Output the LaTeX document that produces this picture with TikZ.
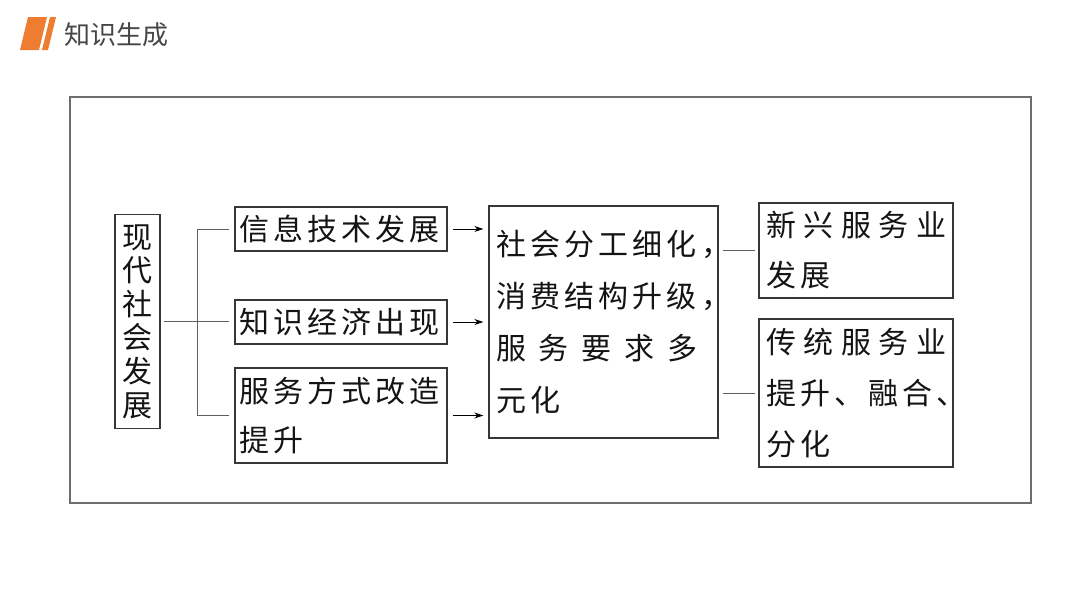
\documentclass[tikz,border=0pt]{standalone}
\usepackage{fontspec}
\usepackage{xcolor}
\usepackage{tikz}
\usetikzlibrary{arrows.meta, positioning, calc}
\newfontfamily\cjk[LetterSpace=14]{Noto Sans CJK SC}
\newfontfamily\cjkhead{Noto Sans CJK SC}
\definecolor{myorange}{RGB}{238,125,49}
\definecolor{myframe}{RGB}{110,110,110}
\definecolor{myborder}{RGB}{55,55,55}
\definecolor{mylink}{RGB}{95,95,95}
\definecolor{mytext}{RGB}{20,20,20}
\definecolor{myhead}{RGB}{70,70,70}
\tikzset{
  box/.style={rectangle, draw=myborder, line width=1.4pt, text=mytext,
    align=left, inner ysep=0pt, minimum height=#1},
  box/.default=44pt,
  link/.style={color=mylink, line width=0.9pt},
  arrow/.style={-{Stealth[length=9pt,width=6pt]}, line width=0.9pt, color=black},
  txt/.style={font={\cjk\fontsize{30}{#1}\selectfont}},
  txt/.default=50pt
}

\begin{document}
\begin{tikzpicture}[x=1pt, y=-1pt]
  \useasboundingbox (0,0) rectangle (1080,608);

  % Header
  \fill[myorange] (28,17) -- (47,17) -- (39,50) -- (20,50) -- cycle;
  \fill[myorange] (50,17) -- (56,17) -- (48,50) -- (42,50) -- cycle;
  \node[anchor=west, text=myhead, font={\cjkhead\fontsize{26}{30}\selectfont}] (title) at (61,35) {知识生成};

  % Outer frame
  \draw[myframe, line width=2pt] (70,97) rectangle (1031,503);

  % Left column
  \node[box=214pt, txt=33.6pt, align=center, text width=30pt, inner xsep=7.5pt] (soc) at (137.5,321.5)
    {现\\代\\社\\会\\发\\展};

  % Causes
  \node[box, txt, text width=204pt, inner xsep=4pt] (info) at (341,229) {信息技术发展};
  \node[box, txt, text width=204pt, inner xsep=4pt] (know) at (341,322) {知识经济出现};
  \node[box=95pt, txt=49pt, text width=204pt, inner xsep=4pt] (mode) at (341,415.5)
    {服务方式改造\\提升};

  % Middle result
  \node[box=232pt, txt=52pt, text width=215pt, inner xsep=7pt] (demand) at (603.5,322)
    {\makebox[\linewidth][l]{社会分工细化，}\\
     \makebox[\linewidth][l]{消费结构升级，}\\
     \makebox[201pt][s]{服\hfill 务\hfill 要\hfill 求\hfill 多}\\
     元化};

  % Outcomes
  \node[box=95pt, txt=50pt, text width=180pt, inner xsep=7pt] (new) at (856,250.5)
    {\makebox[\linewidth][s]{新\hfill 兴\hfill 服\hfill 务\hfill 业}\\发展};
  \node[box=148pt, txt=51pt, text width=180pt, inner xsep=7pt] (old) at (856,393)
    {\makebox[\linewidth][s]{传\hfill 统\hfill 服\hfill 务\hfill 业}\\
     \makebox[\linewidth][l]{提升、融合、}\\
     分化};

  % Bracket
  \coordinate (split) at (197,322);
  \draw[link, shorten <=3pt, shorten >=5pt] (soc) -- (soc -| know.west);
  \draw[link, shorten <=5pt, shorten >=5pt] (info.west) -- (info.west -| split)
    -- (mode.west -| split) -- (mode.west);

  % Arrows to the middle box
  \foreach \n in {info, know, mode}
    \draw[arrow, shorten <=5pt, shorten >=5pt] (\n.east) -- (\n.east -| demand.west);

  % Lines to the outcomes
  \foreach \n in {new, old}
    \draw[link, shorten <=4pt, shorten >=3pt] (\n.west -| demand.east) -- (\n.west);
\end{tikzpicture}
\end{document}
